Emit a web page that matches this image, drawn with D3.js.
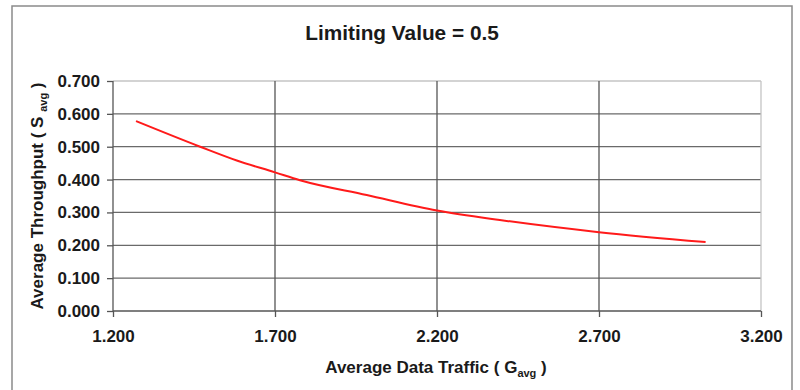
<!DOCTYPE html>
<html>
<head>
<meta charset="utf-8">
<script src="https://cdn.jsdelivr.net/npm/d3@7"></script>
<style>
  html, body { margin: 0; padding: 0; background: #fff; }
  svg { display: block; font-family: "Liberation Sans", Arial, sans-serif; }
</style>
</head>
<body>
<svg id="chart" width="800" height="390"></svg>
<script>
const title = "Limiting Value = 0.5";
const gValues = [1.271, 1.469, 1.582, 1.700, 1.777, 1.983, 2.200, 2.394, 2.700, 3.029];
const sValues = [0.578, 0.500, 0.458, 0.422, 0.398, 0.353, 0.306, 0.277, 0.240, 0.210];
const xTicks = [1.2, 1.7, 2.2, 2.7, 3.2];
const yTicks = [0, 0.1, 0.2, 0.3, 0.4, 0.5, 0.6, 0.7];

const svg = d3.select("#chart");
const W = 800, H = 390;
const m = { left: 113, right: 39, top: 81, bottom: 79 };
const pw = W - m.left - m.right, ph = H - m.top - m.bottom;

// outer frame
svg.append("rect").attr("x", 12).attr("y", 6).attr("width", 780).attr("height", 420)
  .attr("fill", "#fff").attr("stroke", "#8a8a8a").attr("stroke-width", 1.5);

const x = d3.scaleLinear().domain([1.2, 3.2]).range([m.left, m.left + pw]);
const y = d3.scaleLinear().domain([0, 0.7]).range([m.top + ph, m.top]);

const g = svg.append("g");

// horizontal gridlines
g.selectAll(".hg").data(yTicks.filter(d => d > 0)).enter().append("line")
  .attr("x1", x(1.2)).attr("x2", x(3.2))
  .attr("y1", d => y(d)).attr("y2", d => y(d))
  .attr("stroke", d => d === 0.7 ? "#c4c4c4" : "#6a6a6a").attr("stroke-width", 1.3);

// vertical gridlines
g.selectAll(".vg").data(xTicks.filter(d => d > 1.2)).enter().append("line")
  .attr("x1", d => x(d)).attr("x2", d => x(d))
  .attr("y1", y(0)).attr("y2", y(0.7))
  .attr("stroke", d => d === 3.2 ? "#c4c4c4" : "#555").attr("stroke-width", 1.3);

// axes
const yAxis = d3.axisLeft(y).tickValues(yTicks).tickFormat(d3.format(".3f")).tickSize(6).tickPadding(7);
const xAxis = d3.axisBottom(x).tickValues(xTicks).tickFormat(d3.format(".3f")).tickSize(6).tickPadding(13);

const ya = svg.append("g").attr("transform", `translate(${m.left},0)`).call(yAxis);
const xa = svg.append("g").attr("transform", `translate(0,${m.top + ph})`).call(xAxis);
[ya, xa].forEach(a => {
  a.attr("font-size", 17).attr("font-family", "Liberation Sans, Arial, sans-serif");
  a.select(".domain").attr("stroke", "#555").attr("stroke-width", 1.3);
  a.selectAll(".tick line").attr("stroke", "#555").attr("stroke-width", 1.3);
  a.selectAll(".tick text").attr("fill", "#1a1a1a").attr("font-size", 17).attr("font-weight", "bold");
});
xa.select(".domain").attr("d", `M${x(1.2)},0H${x(3.2)}`);
ya.select(".domain").attr("d", `M0,${y(0)}V${y(0.7)}`);

// curve
const pts = gValues.map((v, i) => [v, sValues[i]]);
svg.append("path").datum(pts)
  .attr("fill", "none").attr("stroke", "#ff1a1a").attr("stroke-width", 2)
  .attr("d", d3.line().x(d => x(d[0])).y(d => y(d[1])).curve(d3.curveMonotoneX));

// title
svg.append("text").attr("x", 402).attr("y", 40).attr("text-anchor", "middle")
  .attr("font-size", 20.8).attr("font-weight", "bold").attr("fill", "#1a1a1a").text(title);

// x label
const xl = svg.append("text").attr("x", 436).attr("y", 373).attr("text-anchor", "middle")
  .attr("font-size", 17).attr("font-weight", "bold").attr("fill", "#1a1a1a");
xl.append("tspan").text("Average Data Traffic ( G");
xl.append("tspan").attr("font-size", 11).attr("dy", 4).text("avg");
xl.append("tspan").attr("dy", -4).text(" )");

// y label
const yl = svg.append("text").attr("transform", `translate(43,${196}) rotate(-90)`).attr("text-anchor", "middle")
  .attr("font-size", 17).attr("font-weight", "bold").attr("fill", "#1a1a1a");
yl.append("tspan").text("Average Throughput ( S ");
yl.append("tspan").attr("font-size", 11).attr("dy", 4).text("avg");
yl.append("tspan").attr("dy", -4).text(" )");
</script>
</body>
</html>
